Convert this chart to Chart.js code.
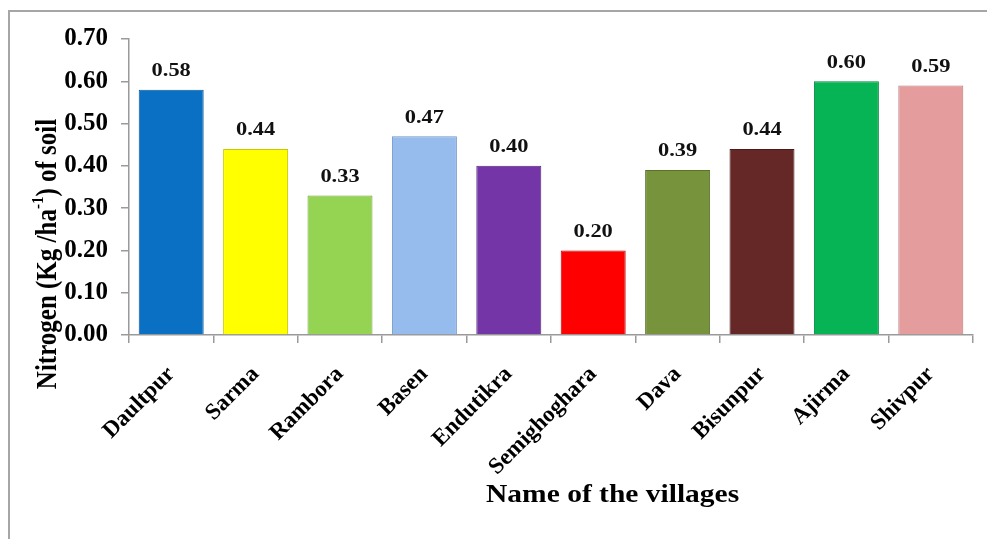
<!DOCTYPE html>
<html>
<head>
<meta charset="utf-8">
<script src="https://cdn.jsdelivr.net/npm/chart.js@4"></script>
<style>
  html, body { margin: 0; padding: 0; background: #fff; }
  #frame { position: absolute; left: 8px; top: 10px; width: 979px; height: 529px;
           border-left: 2px solid #a6a6a6; border-top: 2px solid #a6a6a6; }
  #wrap { position: absolute; left: 0; top: 0; width: 987px; height: 539px; }
</style>
</head>
<body>
<div id="frame"></div>
<div id="wrap"><canvas id="chart" width="987" height="539"></canvas></div>
<script>
// Nitrogen in soil per village
const villages = ['Daultpur', 'Sarma', 'Rambora', 'Basen', 'Endutikra',
  'Semighoghara', 'Dava', 'Bisunpur', 'Ajirma', 'Shivpur'];
const nitrogen = [0.58, 0.44, 0.33, 0.47, 0.40, 0.20, 0.39, 0.44, 0.60, 0.59];
const barColors = ['#0a70c4', '#ffff00', '#95d452', '#95bcec', '#7436a6',
  '#ff0000', '#77933c', '#652826', '#06b455', '#e59c9c'];
const barEdges = ['#08559a', '#c8c800', '#6fa33a', '#6f95c4', '#542580',
  '#c00000', '#5a712c', '#4a1b1a', '#04873f', '#b87878'];
const yTicks = [0, 0.1, 0.2, 0.3, 0.4, 0.5, 0.6, 0.7];

const serif = "'Liberation Serif', 'Times New Roman', serif";
const axisGray = '#9a9a9a';
const stretch = 1.18; // reference text is a little wider than plain Times

// value labels above each bar
const valueLabels = {
  id: 'valueLabels',
  afterDatasetsDraw(chart) {
    const ctx = chart.ctx;
    const meta = chart.getDatasetMeta(0);
    ctx.save();
    ctx.font = 'bold 19px ' + serif;
    ctx.fillStyle = '#111';
    ctx.textAlign = 'center';
    ctx.textBaseline = 'bottom';
    meta.data.forEach((bar, i) => {
      ctx.save();
      ctx.translate(bar.x, bar.y - 9);
      ctx.scale(stretch, 1);
      ctx.fillText(nitrogen[i].toFixed(2), 0, 0);
      ctx.restore();
    });
    ctx.restore();
  }
};

// axis titles (y title needs a superscript)
const axisTitles = {
  id: 'axisTitles',
  afterDraw(chart) {
    const ctx = chart.ctx;
    const area = chart.chartArea;
    ctx.save();
    ctx.fillStyle = '#000';
    ctx.textBaseline = 'middle';
    ctx.textAlign = 'center';
    ctx.font = 'bold 25px ' + serif;
    ctx.translate(area.left + (area.right - area.left) * 0.573, 496);
    ctx.scale(stretch, 1);
    ctx.fillText('Name of the villages', 0, 0);
    ctx.restore();

    ctx.save();
    ctx.fillStyle = '#000';
    ctx.textBaseline = 'middle';
    const big = 'bold 25px ' + serif;
    const small = 'bold 15px ' + serif;
    const parts = [['Nitrogen (Kg /ha', big, 0], ['-1', small, -8], [') of soil', big, 0]];
    let total = 0;
    parts.forEach(p => { ctx.font = p[1]; total += ctx.measureText(p[0]).width; });
    ctx.translate(48, 254);
    ctx.scale(stretch, 1);
    ctx.rotate(-Math.PI / 2);
    ctx.textAlign = 'left';
    let x = -total / 2;
    parts.forEach(p => {
      ctx.font = p[1];
      ctx.fillText(p[0], x, p[2]);
      x += ctx.measureText(p[0]).width;
    });
    ctx.restore();
  }
};

const ctx = document.getElementById('chart').getContext('2d');
const chart = new Chart(ctx, {
  type: 'bar',
  data: {
    labels: villages,
    datasets: [{
      data: nitrogen,
      backgroundColor: barColors,
      borderColor: barEdges,
      borderWidth: 1,
      barPercentage: 0.77,
      categoryPercentage: 1
    }]
  },
  options: {
    responsive: false,
    animation: false,
    events: [],
    layout: { padding: { left: 0, top: 39, right: 14, bottom: 0 } },
    plugins: { legend: { display: false }, tooltip: { enabled: false } },
    scales: {
      x: {
        afterFit: s => { s.height = 204; },
        border: { color: axisGray, width: 1.5 },
        grid: { display: true, drawOnChartArea: false, tickLength: 8, color: axisGray, lineWidth: 1.5 },
        ticks: {
          minRotation: 45, maxRotation: 45, padding: 18,
          color: '#000', font: { family: serif, size: 23, weight: 'bold' }
        }
      },
      y: {
        min: 0, max: 0.7,
        afterFit: s => { s.width = 129; },
        afterBuildTicks: s => { s.ticks = yTicks.map(v => ({ value: v })); },
        border: { color: axisGray, width: 1.5 },
        grid: { display: true, drawOnChartArea: false, tickLength: 8, color: axisGray, lineWidth: 1.5 },
        ticks: {
          padding: 13, color: '#000',
          font: { family: serif, size: 25, weight: 'bold' },
          callback: v => v.toFixed(2)
        }
      }
    }
  },
  plugins: [valueLabels, axisTitles]
});
</script>
</body>
</html>
